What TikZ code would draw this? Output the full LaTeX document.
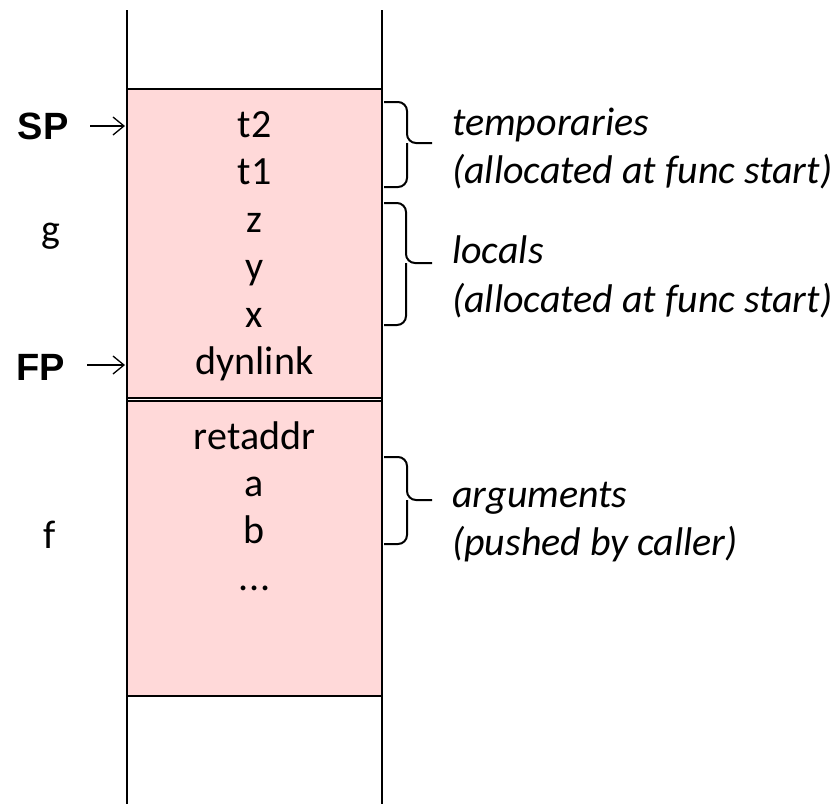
\documentclass[tikz,border=0pt]{standalone}
\usepackage{fontspec}
\setmainfont{Carlito}
\newfontfamily\arialfont{Liberation Sans}
\usetikzlibrary{arrows.meta}
\definecolor{stackpink}{RGB}{255,217,217}
\tikzset{
  framebox/.style={draw=black, line width=2.4pt, fill=stackpink},
  wall/.style={line width=1.8pt},
  cell/.style={font=\fontsize{40}{48}\selectfont, inner sep=0pt, anchor=base},
  regname/.style={font=\arialfont\bfseries\fontsize{38}{46}\selectfont, inner sep=0pt, anchor=base},
  fname/.style={font=\fontsize{40}{48}\selectfont, inner sep=0pt, anchor=base},
  note/.style={font=\itshape\fontsize{40}{48}\selectfont, inner sep=0pt, anchor=base west},
  ptr/.style={line width=1.3pt, -{Straight Barb[length=11pt,width=18pt,line width=1.3pt]}},
  bracket/.style={line width=2pt, rounded corners=9pt},
}
\begin{document}
\begin{tikzpicture}[x=1pt,y=-1pt]
\useasboundingbox (0,0) rectangle (838,804);
% frames
\path[framebox] (127,89) rectangle (382,398);
\path[framebox] (127,401) rectangle (382,696);
% stack walls
\coordinate (wl1) at (127,10);
\coordinate (wl2) at (127,804);
\coordinate (wr1) at (382,10);
\coordinate (wr2) at (382,804);
\draw[wall] (wl1) -- (wl2);
\draw[wall] (wr1) -- (wr2);
% cells
\node[cell] (t2) at (254.5,137) {t2};
\node[cell] (t1) at (254.5,184.5) {t1};
\node[cell] (z) at (254.5,232) {z};
\node[cell] (y) at (254.5,279) {y};
\node[cell] (x) at (254.5,327) {x};
\node[cell] (dyn) at (254.5,374) {dynlink};
\node[cell] (ret) at (254.5,449) {retaddr};
\node[cell] (a) at (254.5,496) {a};
\node[cell] (b) at (254.5,543) {b};
\node[cell] (dots) at (254.5,590) {.\kern0.5pt.\kern0.5pt.};
% frame names
\node[fname] (g) at (51,242) {g};
\node[fname] (f) at (50,548) {f};
% registers
\node[regname] (sp) at (43,139) {SP};
\node[regname] (fp) at (41,380) {FP};
\coordinate (spt) at (125,126);
\coordinate (fpt) at (125,365);
\draw[ptr] (90,126) coordinate (sps) -- (spt);
\draw[ptr] (87,365) coordinate (fps) -- (fpt);
% brackets
\coordinate (tb) at (432,143);
\coordinate (lb) at (432,263);
\coordinate (ab) at (432,500);
\draw[bracket] (384,102) -- (407,102) -- (407,143) -- (tb);
\draw[bracket] (384,187) -- (407,187) -- (407,143);
\draw[bracket] (384,203) -- (406,203) -- (406,263) -- (lb);
\draw[bracket] (384,325) -- (406,325) -- (406,263);
\draw[bracket] (384,457) -- (407,457) -- (407,500) -- (ab);
\draw[bracket] (384,544) -- (407,544) -- (407,500);
% notes
\node[note] (temp) at (452,135) {temporaries};
\node[note] (temp2) at (452,183) {(allocated at func start)};
\node[note] (loc) at (452,263) {locals};
\node[note] (loc2) at (452,312) {(allocated at func start)};
\node[note] (arg) at (452,507) {arguments};
\node[note] (arg2) at (452,555) {(pushed by caller)};
\end{tikzpicture}
\end{document}
